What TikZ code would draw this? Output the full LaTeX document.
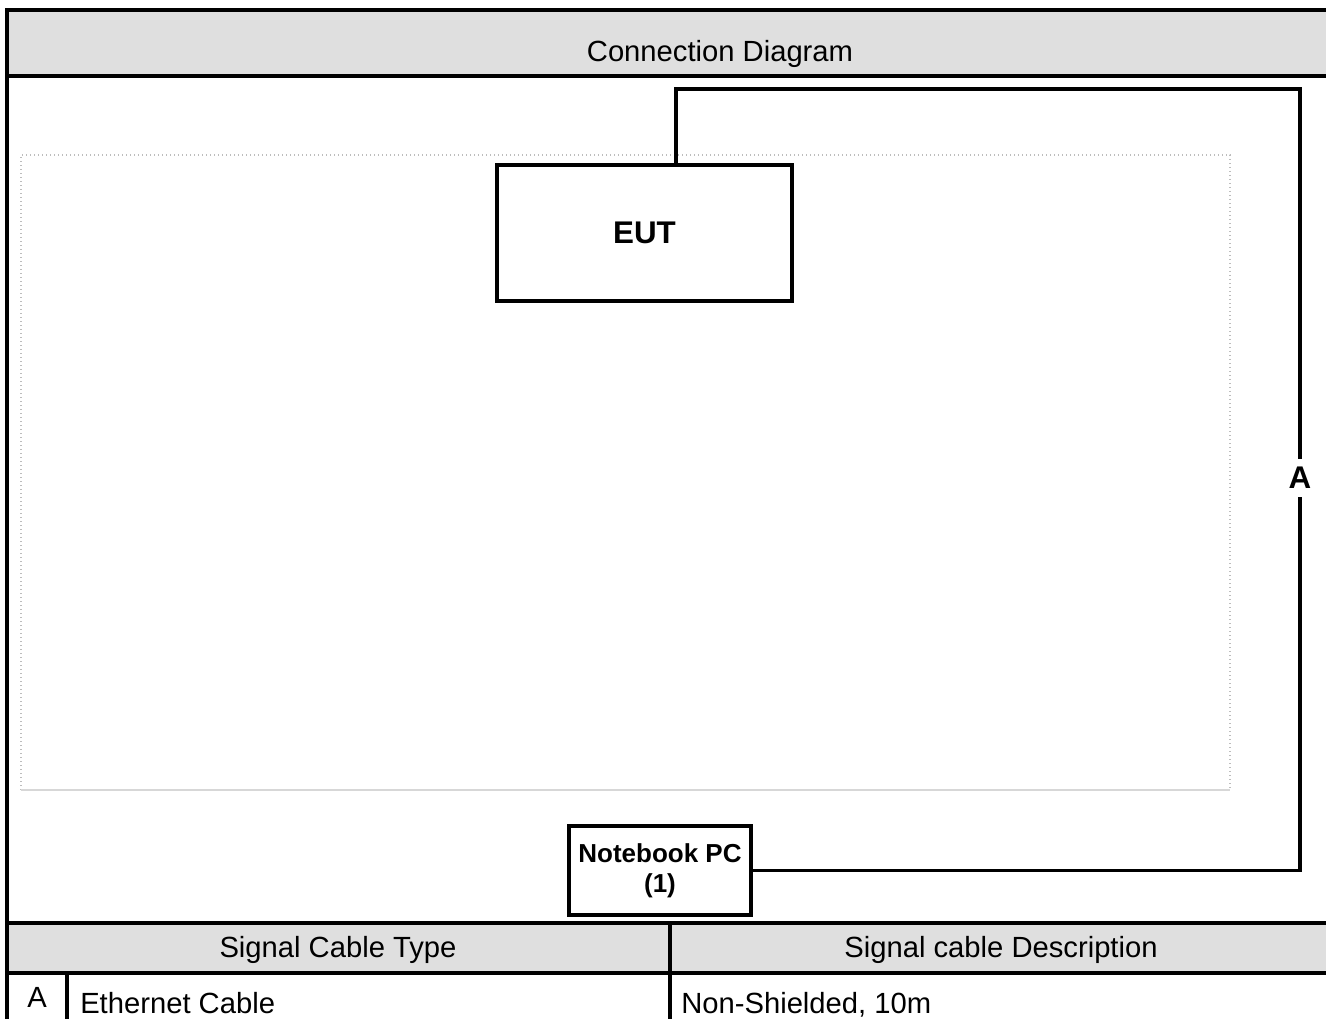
\documentclass[tikz,border=0pt]{standalone}
\usepackage{fontspec}
\setmainfont{Liberation Sans}
\definecolor{hdrgray}{HTML}{DFDFDF}
\definecolor{dotgray}{HTML}{BDBDBD}
\begin{document}
\begin{tikzpicture}[x=0.75pt,y=-0.75pt,
  frameline/.style={line width=2.5pt,black},
  conn/.style={line width=2.5pt,black},
  txt/.style={font=\fontsize{21.9}{25}\selectfont,anchor=base,inner sep=0pt},
  txtw/.style={txt,anchor=base west},
  devbox/.style={draw,line width=2.7pt,inner sep=0pt,align=center},
  lbl/.style={font=\bfseries\fontsize{23.5}{27}\selectfont,fill=white,inner sep=6pt}]
\useasboundingbox (0,0) rectangle (1326,1019);
\clip (0,0) rectangle (1326,1019);
% header band and table header fill
\fill[hdrgray] (7,10) rectangle (1340,76);
\fill[hdrgray] (7,923) rectangle (1340,973);
% frame lines
\draw[frameline] (1340,10) -- (7,10) -- (7,1030);
\draw[frameline] (7,76) -- (1340,76);
\draw[frameline] (7,923) -- (1340,923);
\draw[frameline] (7,973) -- (1340,973);
\draw[frameline] (670,923) -- (670,1030);
\draw[frameline] (67,973) -- (67,1030);
% dotted test area
\draw[dotgray,line width=1pt,dotted] (21,790) -- (21,155) -- (1230,155) -- (1230,790);
\draw[dotgray!60,line width=1.2pt] (21,790) -- (1230,790);
% devices
\node[devbox,minimum width=221.25pt,minimum height=102pt,font=\bfseries\fontsize{23.5}{27}\selectfont] (eut) at (644.5,233) {EUT};
\node[devbox,minimum width=136.5pt,minimum height=66.75pt,font=\bfseries\fontsize{19.5}{22.5}\selectfont] (nb) at (660,870.5) {Notebook PC\\(1)};
% connector
\coordinate (up) at (676,89);
\coordinate (tr) at (1300,89);
\draw[conn] (eut.north -| up) -- (up) -- (tr) |- (nb.east);
\node[lbl] (lblA) at (1300,478) {A};
% texts
\node[txt] (title) at (720,62) {Connection Diagram};
\node[txt] (h1) at (338,957) {Signal Cable Type};
\node[txt] (h2) at (1001,957) {Signal cable Description};
\node[txt] (ca) at (37,1007) {A};
\node[txtw] (ct) at (80,1013) {Ethernet Cable};
\node[txtw] (cd) at (681,1013) {Non-Shielded, 10m};
\end{tikzpicture}
\end{document}
